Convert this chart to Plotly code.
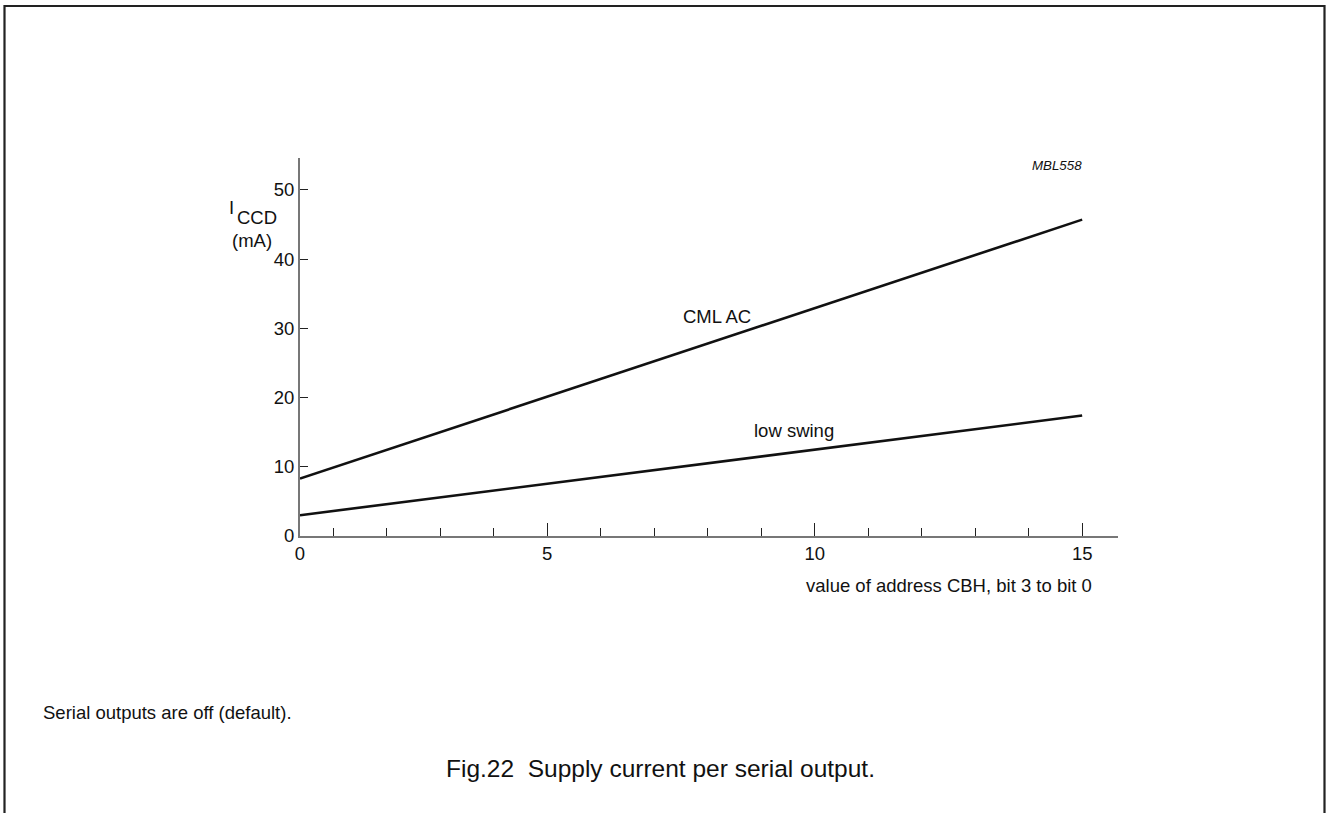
import plotly.graph_objects as go

# values
X_LABELS = [0, 5, 10, 15]
X_MINOR = [1, 2, 3, 4, 6, 7, 8, 9, 11, 12, 13, 14]
Y_TICKS = [0, 10, 20, 30, 40, 50]

cml_x = [0, 15]
cml_y = [8.3, 45.7]
low_x = [0, 15]
low_y = [3.0, 17.4]

W, H = 1326, 813
# plot area in pixels
PX_L, PX_R, PX_T, PX_B = 300, 1118, 158, 536

# the drawing puts its "0" slightly right of the true origin
X_ZERO_POS = 0.38
X_RANGE = [X_ZERO_POS, 15.67]
Y_RANGE = [0, 54.6]

FONT = "Liberation Sans, Arial, sans-serif"
INK = "#111111"
TXT = 18.5


def xs(vals):
    return [X_ZERO_POS if v == 0 else v for v in vals]


def px_x(p):
    return (p - PX_L) / (PX_R - PX_L)


def px_y(p):
    return (PX_B - p) / (PX_B - PX_T)


fig = go.Figure()
for x, y in [(cml_x, cml_y), (low_x, low_y)]:
    fig.add_trace(go.Scatter(
        x=xs(x), y=y, mode="lines",
        line=dict(color=INK, width=2.6),
        hoverinfo="skip", showlegend=False,
    ))

fig.update_layout(
    width=W, height=H,
    margin=dict(l=PX_L, r=W - PX_R, t=PX_T, b=H - PX_B, pad=0),
    paper_bgcolor="white", plot_bgcolor="white",
    font=dict(family=FONT, size=TXT, color=INK),
    xaxis=dict(
        range=X_RANGE, showgrid=False, zeroline=False,
        showline=True, linecolor="#777777", linewidth=2,
        tickmode="array", tickvals=xs(X_LABELS), ticktext=[str(v) for v in X_LABELS],
        ticks="inside", ticklen=13, tickwidth=1.2, tickcolor="#222222",
        tickfont=dict(size=TXT),
        minor=dict(tickvals=X_MINOR, ticks="inside", ticklen=8,
                   tickwidth=1.2, tickcolor="#222222", showgrid=False),
    ),
    yaxis=dict(
        range=Y_RANGE, showgrid=False, zeroline=False,
        showline=True, linecolor="#777777", linewidth=2,
        tickmode="array", tickvals=Y_TICKS,
        ticks="inside", ticklen=8, tickwidth=1.2, tickcolor="#222222",
        tickfont=dict(size=TXT),
    ),
)

# frame around the figure (open at the bottom)
fx0, fx1 = px_x(4.5), px_x(1324.5)
fy0, fy1 = px_y(6), px_y(830)
fig.add_shape(
    type="path", xref="paper", yref="paper",
    path=f"M {fx0},{fy1} L {fx0},{fy0} L {fx1},{fy0} L {fx1},{fy1}",
    line=dict(color="#222222", width=2.2),
)

notes = [
    dict(x=236, y=207, text="I", xanchor="right", size=TXT),
    dict(x=235, y=217, text="CCD", xanchor="left", size=TXT),
    dict(x=274, y=240, text="(mA)", xanchor="right", size=TXT),
    dict(x=717, y=316, text="CML AC", xanchor="center", size=TXT),
    dict(x=794, y=430, text="low swing", xanchor="center", size=TXT),
    dict(x=1094, y=585, text="value of address CBH, bit 3 to bit 0",
         xanchor="right", size=TXT),
    dict(x=1084, y=165, text="<i>MBL558</i>", xanchor="right", size=13.3),
    dict(x=41, y=712, text="Serial outputs are off (default).",
         xanchor="left", size=TXT),
    dict(x=444, y=768, text="Fig.22  Supply current per serial output.",
         xanchor="left", size=24.5),
]
for n in notes:
    fig.add_annotation(
        x=px_x(n["x"]), y=px_y(n["y"]), xref="paper", yref="paper",
        text=n["text"], showarrow=False, xanchor=n["xanchor"], yanchor="middle",
        font=dict(family=FONT, size=n["size"], color=INK),
    )

fig.write_html(
    "out.html",
    config={"displayModeBar": False},
    post_script="document.body.style.margin='0px';",
)
